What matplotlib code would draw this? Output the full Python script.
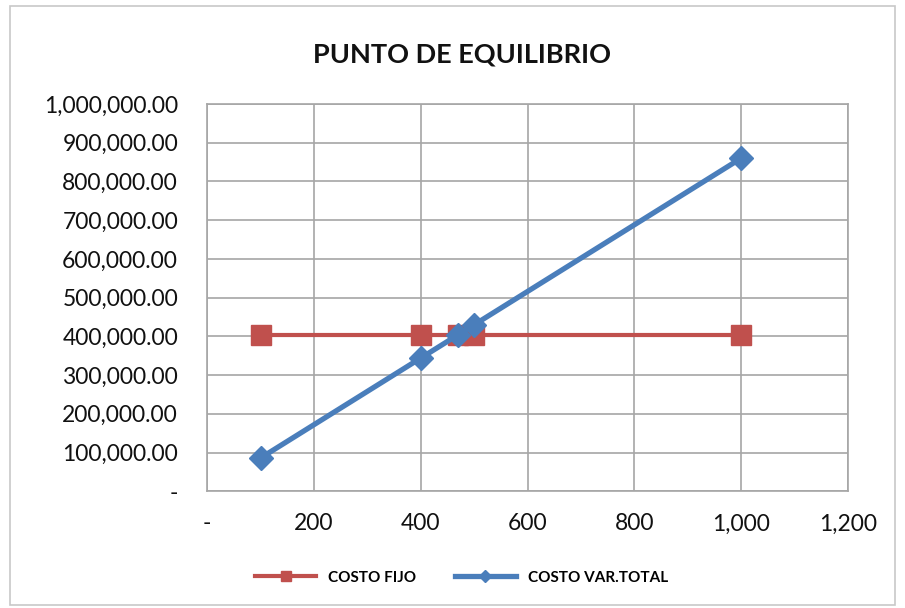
import matplotlib
matplotlib.use("Agg")
import matplotlib.pyplot as plt
from matplotlib.patches import Rectangle
from matplotlib.ticker import FuncFormatter

unidades = [100, 400, 470, 500, 1000]
costo_fijo = [404000, 404000, 404000, 404000, 404000]
costo_var_total = [86000, 344000, 404200, 430000, 860000]

x_ticks = [0, 200, 400, 600, 800, 1000, 1200]
y_ticks = list(range(0, 1000001, 100000))

plt.rcParams['font.family'] = ['Lato', 'DejaVu Sans']

fig = plt.figure(figsize=(9.05, 6.08), dpi=100)
ax = fig.add_axes([0.229, 0.192, 0.708, 0.637])

fig.patches.append(Rectangle((0.011, 0.005), 0.978, 0.985, transform=fig.transFigure,
                             fill=False, edgecolor='#c8c8c8', linewidth=1.2))

red = '#C0504D'
blue = '#4A7EBB'
ax.plot(unidades, costo_fijo, color=red, linewidth=3, marker='s', markersize=14,
        label='COSTO FIJO', zorder=3)
ax.plot(unidades, costo_var_total, color=blue, linewidth=3.8, marker='D', markersize=12,
        label='COSTO VAR.TOTAL', zorder=4)

ax.set_xlim(0, 1200)
ax.set_ylim(0, 1000000)
ax.set_xticks(x_ticks)
ax.set_yticks(y_ticks)


def fmt_x(v, pos):
    return '-' if v == 0 else f'{int(v):,}'


def fmt_y(v, pos):
    return '-' if v == 0 else f'{v:,.2f}'


ax.xaxis.set_major_formatter(FuncFormatter(fmt_x))
ax.yaxis.set_major_formatter(FuncFormatter(fmt_y))
ax.tick_params(axis='both', length=0, labelsize=16.5, colors='#111111')
ax.tick_params(axis='x', pad=16)
ax.tick_params(axis='y', pad=21)

ax.grid(True, color='#a6a6a6', linewidth=1.2)
ax.set_axisbelow(True)
for sp in ax.spines.values():
    sp.set_color('#a6a6a6')
    sp.set_linewidth(1.2)

fig.text(0.51, 0.91, 'PUNTO DE EQUILIBRIO', ha='center', va='center',
         fontsize=19.5, fontweight='bold', color='#111111')

leg = fig.legend(loc='center', bbox_to_anchor=(0.51, 0.05), ncol=2, frameon=False,
                 fontsize=11, markerscale=0.5, handlelength=4, columnspacing=2.5)
for t in leg.get_texts():
    t.set_fontweight('bold')

fig.savefig('out.png', dpi=100)
